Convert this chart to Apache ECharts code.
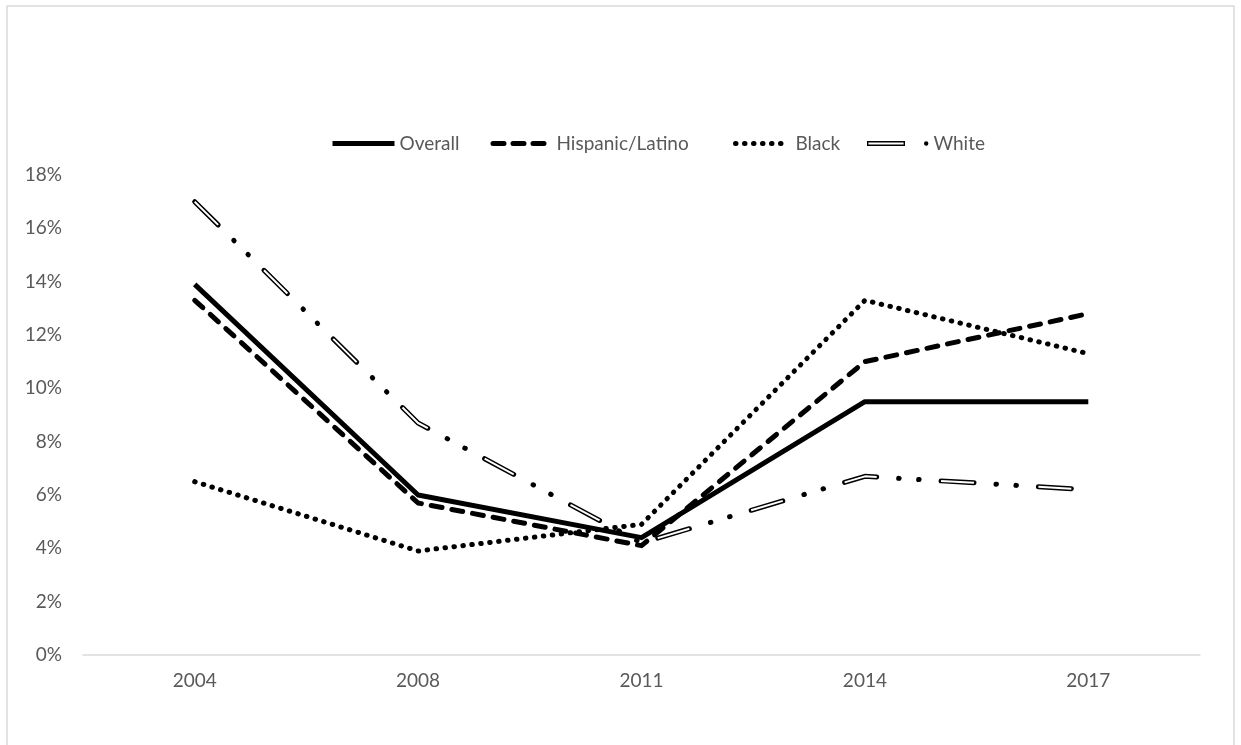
<!DOCTYPE html>
<html>
<head>
<meta charset="utf-8">
<script src="https://cdn.jsdelivr.net/npm/echarts@6/dist/echarts.min.js"></script>
<style>
html,body{margin:0;padding:0;background:#fff;}
#chart{width:1241px;height:745px;}
</style>
</head>
<body>
<div id="chart"></div>
<script>
const years = ['2004', '2008', '2011', '2014', '2017'];
const overall = [13.9, 6.0, 4.4, 9.5, 9.5];
const hispanic = [13.3, 5.7, 4.1, 11.0, 12.8];
const black = [6.5, 3.9, 4.9, 13.3, 11.3];
const white = [17.0, 8.7, 4.2, 6.7, 6.2];
const seriesNames = ['Overall', 'Hispanic/Latino', 'Black', 'White'];

const FONT = 'Lato';
const TXT = '#595959';
const legendText = {color: TXT, fontSize: 19, fontFamily: FONT};

const chart = echarts.init(document.getElementById('chart'), null, {renderer: 'canvas'});

const whitePath = 'path://M0,0 L38,0 L38,5 L0,5 Z M1.4,1.4 L1.4,3.6 L36.6,3.6 L36.6,1.4 Z ' +
  'M57,2.5 A2.2,2.2 0 1 0 61.4,2.5 A2.2,2.2 0 1 0 57,2.5 Z';

chart.setOption({
  animation: false,
  backgroundColor: '#fff',
  graphic: [{
    type: 'rect',
    shape: {x: 7, y: 6, width: 1227, height: 780},
    style: {fill: 'none', stroke: '#d9d9d9', lineWidth: 1.5},
    silent: true
  }],
  grid: {left: 83, right: 41, top: 175, bottom: 90, containLabel: false},
  legend: [
    {
      data: [seriesNames[0]], left: 325, top: 129, selectedMode: false,
      itemWidth: 62, itemHeight: 14, textStyle: legendText,
      itemStyle: {opacity: 0},
      lineStyle: {color: '#000', width: 5, type: 'solid', cap: 'butt'}
    },
    {
      data: [seriesNames[1]], left: 483, top: 129, selectedMode: false,
      itemWidth: 61, itemHeight: 14, textStyle: legendText,
      itemStyle: {opacity: 0},
      lineStyle: {color: '#000', width: 5, type: [11, 9, 11, 9, 11, 19.5], dashOffset: 68, cap: 'round'}
    },
    {
      data: [seriesNames[2]], left: 721, top: 129, selectedMode: false,
      itemWidth: 62, itemHeight: 14, textStyle: legendText,
      itemStyle: {opacity: 0},
      lineStyle: {color: '#000', width: 5, type: [0.5, 8.5, 0.5, 8.5, 0.5, 8.5, 0.5, 8.5, 0.5, 8.5, 0.5, 30], dashOffset: 68.5, cap: 'round'}
    },
    {
      data: [{name: seriesNames[3], icon: whitePath}], left: 862, top: 129, selectedMode: false,
      itemWidth: 61.4, itemHeight: 14, textStyle: legendText,
      itemStyle: {color: '#000', borderWidth: 0, opacity: 1}
    }
  ],
  xAxis: {
    type: 'category',
    data: years,
    boundaryGap: true,
    axisLine: {show: true, lineStyle: {color: '#d9d9d9', width: 1.5}},
    axisTick: {show: false},
    axisLabel: {color: TXT, fontSize: 19, fontFamily: FONT, margin: 16},
    splitLine: {show: false}
  },
  yAxis: {
    type: 'value',
    min: 0, max: 18, interval: 2,
    axisLine: {show: false},
    axisTick: {show: false},
    splitLine: {show: false},
    axisLabel: {color: TXT, fontSize: 19, fontFamily: FONT, margin: 21, formatter: '{value}%'}
  },
  series: [
    {
      name: seriesNames[0], type: 'line', data: overall, symbol: 'none', color: '#000',
      lineStyle: {color: '#000', width: 5, type: 'solid', join: 'round'}
    },
    {
      name: seriesNames[1], type: 'line', data: hispanic, symbol: 'none', color: '#000',
      lineStyle: {color: '#000', width: 5, type: [11, 10], cap: 'round', join: 'round'}
    },
    {
      name: seriesNames[2], type: 'line', data: black, symbol: 'none', color: '#000',
      lineStyle: {color: '#000', width: 5, type: [0.5, 8.5], cap: 'round', join: 'round'}
    },
    {
      name: seriesNames[3], type: 'line', data: white, symbol: 'none', color: '#000',
      lineStyle: {color: '#000', width: 5, type: [33, 22, 0.5, 19.5, 0.5, 22], cap: 'round', join: 'round'}
    },
    {
      name: 'White (inner)', type: 'line', data: white, symbol: 'none', color: '#fff',
      silent: true,
      lineStyle: {color: '#fff', width: 2, type: [33, 64.5], cap: 'butt', join: 'round'}
    }
  ]
});
</script>
</body>
</html>
